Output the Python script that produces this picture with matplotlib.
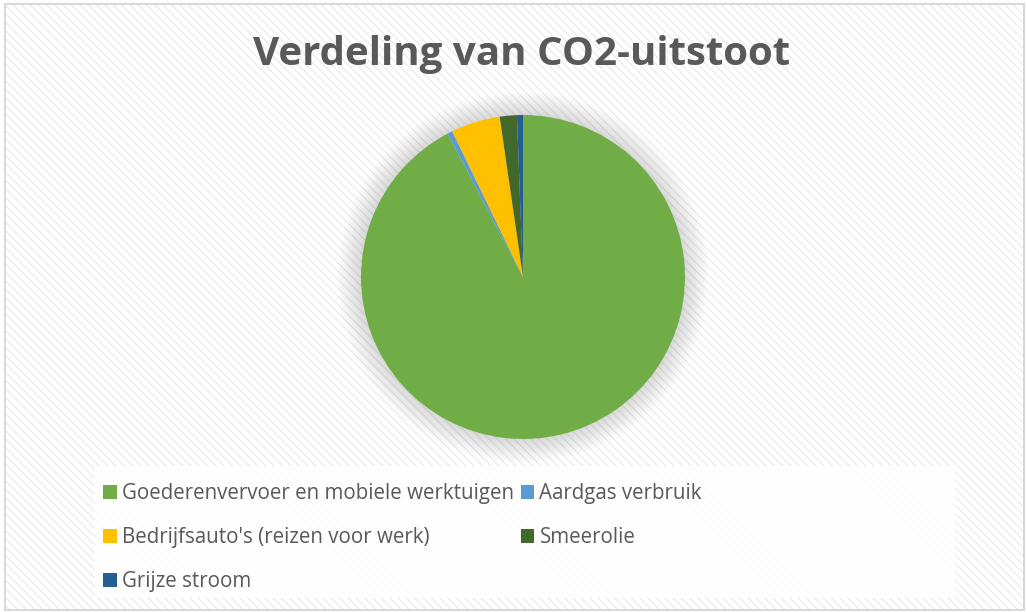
import matplotlib.pyplot as plt
from matplotlib.patches import Rectangle, Circle

# data
labels = ["Goederenvervoer en mobiele werktuigen", "Aardgas verbruik",
          "Bedrijfsauto's (reizen voor werk)", "Smeerolie", "Grijze stroom"]
values = [92.3, 0.5, 4.9, 1.7, 0.6]
colors = ["#70ad47", "#5b9bd5", "#ffc000", "#43682b", "#255e91"]

plt.rcParams['font.family'] = ['Open Sans', 'DejaVu Sans']

W, H = 1027, 612
fig = plt.figure(figsize=(W / 100, H / 100), dpi=100)

# achtergrond met diagonale arcering
bg = fig.add_axes([0, 0, 1, 1])
bg.set_xlim(0, W)
bg.set_ylim(H, 0)
bg.axis('off')
bg.add_patch(Rectangle((5, 4), W - 8, H - 6, facecolor='white',
                       edgecolor='#ececec', hatch='\\\\\\\\', lw=0))
bg.add_patch(Rectangle((5, 4), W - 8, H - 6, facecolor='none',
                       edgecolor='#d9d9d9', lw=1.5))
bg.add_patch(Rectangle((95, 466), 860, 132, facecolor='white', alpha=0.85,
                       edgecolor='none'))

# titel
bg.text(522, 55, "Verdeling van CO2-uitstoot", ha='center', va='center',
        fontsize=29, fontweight='bold', color='#595959')

# taartdiagram
cx, cy, r = 523, 277, 162
pad = 1.25
ax = fig.add_axes([(cx - r * pad) / W, (H - cy - r * pad) / H,
                   2 * r * pad / W, 2 * r * pad / H])
ax.set_xlim(-pad, pad)
ax.set_ylim(-pad, pad)
ax.set_aspect('equal')
ax.axis('off')

# zachte schaduw
for i in range(12):
    ax.add_patch(Circle((0, 0), 1.0 + 0.012 * (12 - i), color='#808080',
                        alpha=0.025, lw=0, zorder=0))

wedges, _ = ax.pie(values, colors=colors, startangle=90, counterclock=False,
                   radius=1.0, wedgeprops=dict(linewidth=0))

# legenda in rijvolgorde
order = [0, 2, 4, 1, 3]
fig.legend([wedges[i] for i in order], [labels[i] for i in order],
           ncol=2, loc='upper left', bbox_to_anchor=(93 / W, 1 - 473 / H),
           frameon=False, fontsize=14.8, labelcolor='#595959',
           handlelength=0.65, handleheight=0.65, handletextpad=0.25,
           columnspacing=0.35, labelspacing=1.12, borderpad=0)

fig.savefig("out.png", dpi=100)
